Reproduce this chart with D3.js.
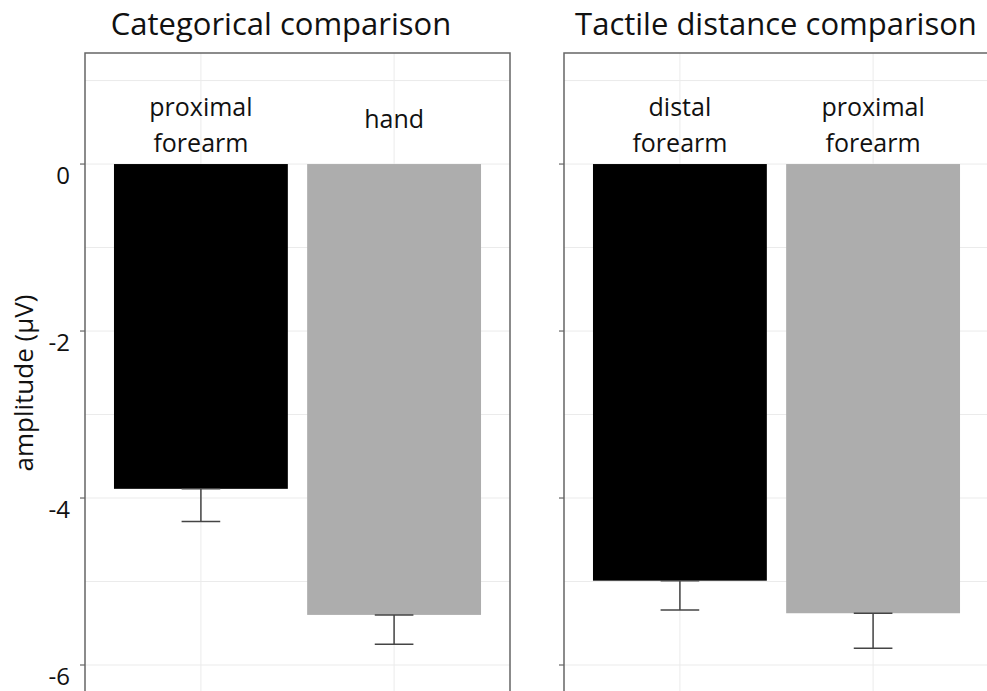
<!DOCTYPE html>
<html>
<head>
<meta charset="utf-8">
<script src="https://cdn.jsdelivr.net/npm/d3@7"></script>
<style>
  html, body { margin: 0; padding: 0; background: #fff; }
  svg { display: block; font-family: "Open Sans", "Noto Sans", sans-serif; }
</style>
</head>
<body>
<svg id="chart" width="987" height="691"></svg>
<script>
// Panel titles
const panelTitles = ["Categorical comparison", "Tactile distance comparison"];
// Conditions per panel (label lines)
const leftCategories = [["proximal", "forearm"], ["hand"]];
const rightCategories = [["distal", "forearm"], ["proximal", "forearm"]];
// Mean amplitude (µV) per condition
const leftMeans = [-3.89, -5.40];
const rightMeans = [-4.99, -5.38];
// Lower end of the error bar (mean - SE)
const leftLower = [-4.28, -5.75];
const rightLower = [-5.34, -5.80];
// Y axis ticks
const yTicks = [0, -2, -4, -6];
const yGrid = [1, 0, -1, -2, -3, -4, -5, -6];
const barColors = ["#000000", "#adadad"];

const svg = d3.select("#chart");

const plotTop = 53;
const panelWidth = 425;
const panelLefts = [85, 564];

// Shared y scale: 0 sits at y=164, 83.5px per µV
const y = d3.scaleLinear().domain([-6.4, 1.33]).range([698.4, plotTop]);

const panels = [
  { title: panelTitles[0], cats: leftCategories, means: leftMeans, lower: leftLower, showLabels: true },
  { title: panelTitles[1], cats: rightCategories, means: rightMeans, lower: rightLower, showLabels: false }
];

panels.forEach((p, pi) => {
  const x0 = panelLefts[pi];
  const g = svg.append("g").attr("transform", `translate(${x0},0)`);
  const x = d3.scaleBand()
    .domain(d3.range(p.means.length))
    .range([0, panelWidth])
    .paddingInner(0.1)
    .paddingOuter(0.15);
  const cx = i => x(i) + x.bandwidth() / 2;
  const bottom = y.range()[0];

  // grid
  g.selectAll("line.hgrid").data(yGrid).join("line")
    .attr("class", "hgrid")
    .attr("x1", 0).attr("x2", panelWidth)
    .attr("y1", d => y(d)).attr("y2", d => y(d))
    .attr("stroke", "#ebebeb").attr("stroke-width", 1);
  g.selectAll("line.vgrid").data(d3.range(p.means.length)).join("line")
    .attr("class", "vgrid")
    .attr("x1", d => cx(d)).attr("x2", d => cx(d))
    .attr("y1", plotTop).attr("y2", bottom)
    .attr("stroke", "#ebebeb").attr("stroke-width", 1);

  // bars
  g.selectAll("rect.bar").data(p.means).join("rect")
    .attr("class", "bar")
    .attr("x", (d, i) => x(i))
    .attr("width", x.bandwidth())
    .attr("y", y(0))
    .attr("height", d => y(d) - y(0))
    .attr("fill", (d, i) => barColors[i]);

  // error bars (mean to mean - SE, capped at both ends)
  const capHalf = x.step() * 0.1;
  const eb = g.selectAll("g.err").data(p.means).join("g").attr("class", "err")
    .attr("stroke", "#444").attr("stroke-width", 1.5);
  eb.append("line")
    .attr("x1", (d, i) => cx(i)).attr("x2", (d, i) => cx(i))
    .attr("y1", d => y(d)).attr("y2", (d, i) => y(p.lower[i]));
  eb.append("line")
    .attr("x1", (d, i) => cx(i) - capHalf).attr("x2", (d, i) => cx(i) + capHalf)
    .attr("y1", d => y(d)).attr("y2", d => y(d));
  eb.append("line")
    .attr("x1", (d, i) => cx(i) - capHalf).attr("x2", (d, i) => cx(i) + capHalf)
    .attr("y1", (d, i) => y(p.lower[i])).attr("y2", (d, i) => y(p.lower[i]));

  // category labels inside the plot, above the bars
  p.cats.forEach((lines, i) => {
    const t = g.append("text")
      .attr("text-anchor", "middle")
      .attr("font-size", 25)
      .attr("fill", "#111");
    const baseY = lines.length === 2 ? 116 : 128;
    lines.forEach((ln, j) => {
      t.append("tspan").attr("x", cx(i)).attr("y", baseY + j * 36).text(ln);
    });
  });

  // frame: left, top, right
  g.append("path")
    .attr("d", `M0,${bottom + 10}V${plotTop}H${panelWidth}V${bottom + 10}`)
    .attr("fill", "none").attr("stroke", "#666").attr("stroke-width", 1.5);

  // y ticks
  g.selectAll("line.tick").data(yTicks).join("line")
    .attr("class", "tick")
    .attr("x1", -5).attr("x2", 0)
    .attr("y1", d => y(d)).attr("y2", d => y(d))
    .attr("stroke", "#666").attr("stroke-width", 1.2);

  if (p.showLabels) {
    g.selectAll("text.ylab").data(yTicks).join("text")
      .attr("class", "ylab")
      .attr("x", -15)
      .attr("y", d => y(d) + 20)
      .attr("text-anchor", "end")
      .attr("font-size", 24)
      .attr("fill", "#111")
      .text(d => d3.format("d")(d).replace("−", "-"));
  }

  // panel title
  svg.append("text")
    .attr("x", pi === 0 ? 281 : 776)
    .attr("y", 35)
    .attr("text-anchor", "middle")
    .attr("font-size", 31)
    .attr("fill", "#111")
    .text(p.title);
});

// y-axis title
svg.append("text")
  .attr("transform", "translate(33,383) rotate(-90)")
  .attr("text-anchor", "middle")
  .attr("font-size", 26)
  .attr("fill", "#111")
  .text("amplitude (µV)");
</script>
</body>
</html>
